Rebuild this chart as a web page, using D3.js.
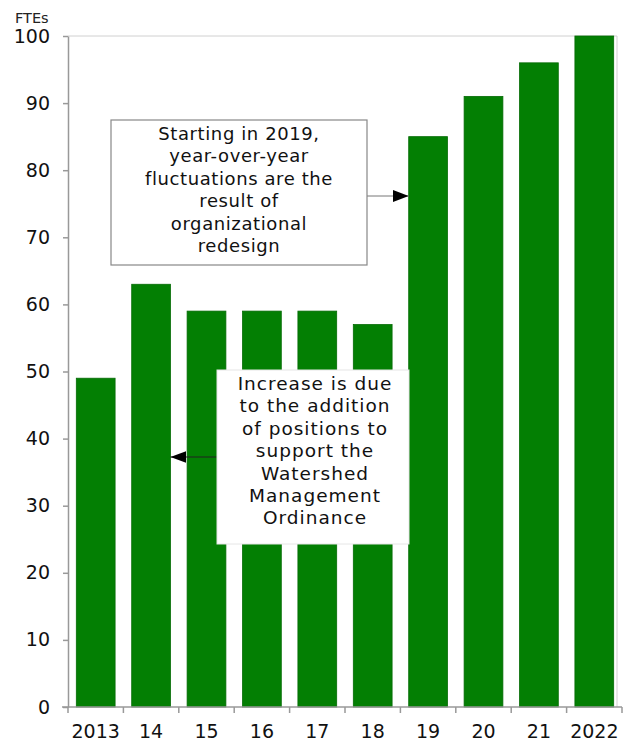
<!DOCTYPE html>
<html><head><meta charset="utf-8">
<script src="https://cdn.jsdelivr.net/npm/d3@7"></script>
<style>body{margin:0;background:#fff;} svg{display:block;font-family:"DejaVu Sans",Verdana,sans-serif;}</style>
</head><body>
<script>
const categories = ["2013","14","15","16","17","18","19","20","21","2022"];
const values = [49, 63, 59, 59, 59, 57, 85, 91, 96, 100];
const yTicks = [0,10,20,30,40,50,60,70,80,90,100];
const note1 = ["Starting in 2019,","year-over-year","fluctuations are the","result of","organizational","redesign"];
const note2 = ["Increase is due","to the addition","of positions to","support the","Watershed","Management","Ordinance"];

const W = 628, H = 746;
const svg = d3.select("body").append("svg").attr("width", W).attr("height", H);
const x = d3.scaleBand().domain(categories).range([68, 622]).paddingInner(0.3).paddingOuter(0.15);
const y = d3.scaleLinear().domain([0, 100]).range([707, 36]);

// plot frame (top/right)
svg.append("path").attr("d", `M68,${y(100)}H617V${y(0)}`).attr("fill","none").attr("stroke","#d0d0d0").attr("stroke-width",1);

// bars
svg.selectAll("rect.bar").data(values).join("rect").attr("class","bar")
  .attr("x",(d,i)=>x(categories[i])).attr("width",x.bandwidth())
  .attr("y",d=>y(d)).attr("height",d=>y(0)-y(d))
  .attr("fill","#037f03").attr("stroke","#056b05").attr("stroke-width",0.8);

// y axis
const ya = svg.append("g").attr("transform","translate(68,0)")
  .call(d3.axisLeft(y).tickValues(yTicks).tickSize(5).tickSizeOuter(0).tickPadding(13));
ya.select(".domain").attr("stroke","#999").attr("stroke-width",1.5);
ya.selectAll(".tick line").attr("stroke","#999").attr("stroke-width",1.5);
ya.selectAll(".tick text").attr("font-size",19).attr("fill","#111").attr("font-family","DejaVu Sans, Verdana, sans-serif");

// x axis
const xa = svg.append("g").attr("transform",`translate(0,${y(0)})`)
  .call(d3.axisBottom(x).tickSize(0).tickPadding(18));
xa.select(".domain").attr("stroke","#999").attr("stroke-width",1.5).attr("d","M62,0H622");
xa.selectAll(".tick text").attr("font-size",19).attr("fill","#111").attr("font-family","DejaVu Sans, Verdana, sans-serif");
// category boundary ticks
svg.selectAll("line.xt").data(d3.range(categories.length+1)).join("line").attr("class","xt")
  .attr("x1",i=>68+i*x.step()).attr("x2",i=>68+i*x.step())
  .attr("y1",y(0)).attr("y2",y(0)+6).attr("stroke","#999").attr("stroke-width",1.5);

// axis title
svg.append("text").attr("x",15).attr("y",23).attr("font-size",14.5).attr("fill","#222").text("FTEs");

// arrow marker
const defs = svg.append("defs");
defs.append("marker").attr("id","arr2").attr("viewBox","0 0 16 12").attr("refX",16).attr("refY",6)
  .attr("markerWidth",16).attr("markerHeight",12).attr("markerUnits","userSpaceOnUse").attr("orient","auto")
  .append("path").attr("d","M0,0L16,6L0,12Z").attr("fill","#000");

// annotation 1
const bx1 = {x:111, y:120, w:256, h:145};
svg.append("line").attr("x1",bx1.x+bx1.w).attr("y1",196).attr("x2",x("19")).attr("y2",196)
  .attr("stroke","#777").attr("stroke-width",1).attr("marker-end","url(#arr2)");
svg.append("rect").attr("x",bx1.x).attr("y",bx1.y).attr("width",bx1.w).attr("height",bx1.h)
  .attr("fill","#fff").attr("stroke","#888").attr("stroke-width",1.2);
svg.append("g").selectAll("text").data(note1).join("text")
  .attr("x",bx1.x+bx1.w/2).attr("y",(d,i)=>140+i*22.4).attr("text-anchor","middle")
  .attr("font-size",18).attr("letter-spacing",0.6).attr("fill","#111").text(d=>d);

// annotation 2
const bx2 = {x:217, y:370, w:192, h:174};
svg.append("line").attr("x1",bx2.x).attr("y1",457).attr("x2",x("14")+x.bandwidth()).attr("y2",457)
  .attr("stroke","#222").attr("stroke-width",1.2).attr("marker-end","url(#arr2)");
svg.append("rect").attr("x",bx2.x).attr("y",bx2.y).attr("width",bx2.w).attr("height",bx2.h)
  .attr("fill","#fff").attr("stroke","#e6e6e6").attr("stroke-width",1);
svg.append("g").selectAll("text").data(note2).join("text")
  .attr("x",bx2.x+bx2.w/2+2).attr("y",(d,i)=>390+i*22.4).attr("text-anchor","middle")
  .attr("font-size",18.5).attr("letter-spacing",1).attr("fill","#111").text(d=>d);
</script>
</body></html>
